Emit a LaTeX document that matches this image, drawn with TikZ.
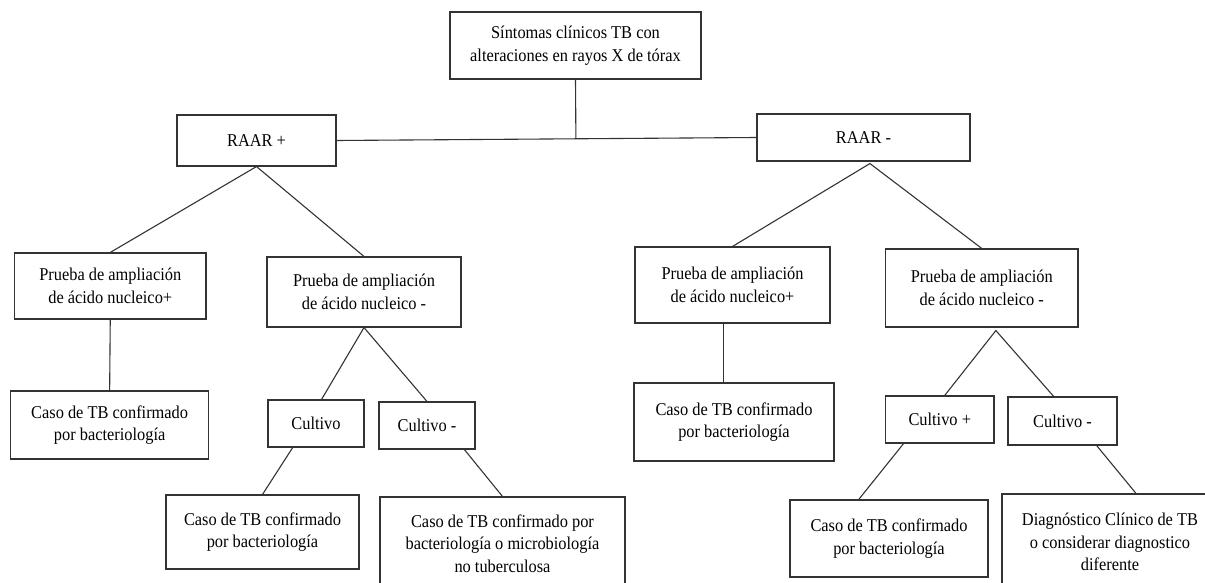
\documentclass[tikz,border=0pt]{standalone}
\usepackage{fontspec}
\setmainfont{Liberation Serif}[FakeStretch=0.91]
\usetikzlibrary{calc}
\tikzset{
  bx/.style 2 args={draw=black!80, line width=1.1pt, align=center, inner sep=0pt,
    minimum width=#1 pt, minimum height=#2 pt, text=black,
    font=\fontsize{18}{22.5}\selectfont},
  ln/.style={draw=black!80, line width=1.1pt}
}
\begin{document}
\begin{tikzpicture}[x=1pt,y=-1pt]
\useasboundingbox (0,0) rectangle (1205,583);
\clip (0,0) rectangle (1205,583);
% nodes
\node[bx={251}{67}] (top) at (575.5,45.5) {Síntomas clínicos TB con\\alteraciones en rayos X de tórax};
\node[bx={159}{51}] (raarp) at (256.5,140.5) {RAAR +};
\node[bx={213}{47}] (raarm) at (863.5,137.5) {RAAR -};
\node[bx={191.5}{66}] (paanL1) at (110.25,286) {Prueba de ampliación\\de ácido nucleico+};
\node[bx={194}{70}] (paanL2) at (364,292) {Prueba de ampliación\\de ácido nucleico -};
\node[bx={195}{76}] (paanR1) at (732.5,285) {Prueba de ampliación\\de ácido nucleico+};
\node[bx={192.5}{78}] (paanR2) at (981.75,288) {Prueba de ampliación\\de ácido nucleico -};
\node[bx={198}{68}] (casoL1) at (109.65,425) {Caso de TB confirmado\\por bacteriología};
\node[bx={96}{47}] (cult1) at (316,423.5) {Cultivo};
\node[bx={96}{47}] (cultm1) at (427,425.5) {Cultivo -};
\node[bx={193}{74}] (casoL2) at (262.5,532) {Caso de TB confirmado\\por bacteriología};
\node[bx={245}{93}] (casoL3) at (502.5,543.5) {Caso de TB confirmado por\\bacteriología o microbiología\\no tuberculosa};
\node[bx={200}{78}] (casoR1) at (734,422) {Caso de TB confirmado\\por bacteriología};
\node[bx={108.5}{47}] (cultp) at (939.75,419.5) {Cultivo +};
\node[bx={109}{48}] (cultmR) at (1062.5,421) {Cultivo -};
\node[bx={198}{77}] (casoR2) at (889,538.5) {Caso de TB confirmado\\por bacteriología};
\node[bx={216}{96}] (diag) at (1110,542) {Diagnóstico Clínico de TB\\o considerar diagnostico\\diferente};
% connectors
\coordinate (j) at ($(raarp.east)!0.570!(raarm.west)$);
\draw[ln] (raarp.east) -- (raarm.west);
\draw[ln] (top.south) -- (j);
\coordinate (aRm) at ($(raarm.south west)!0.53!(raarm.south east)+(0,2)$);
\draw[ln] (paanL1.north) -- (raarp.south) -- (paanL2.north);
\draw[ln] (paanR1.north) -- (aRm) -- (paanR2.north);
\draw[ln] (paanL1.south) -- (casoL1.north);
\draw[ln] ($(cult1.north west)!0.557!(cult1.north east)$) -- (paanL2.south) -- (cultm1.north);
\draw[ln] ($(cult1.south west)!0.26!(cult1.south east)$) -- (casoL2.north);
\draw[ln] ($(cultm1.south west)!0.885!(cultm1.south east)$) -- (casoL3.north);
\coordinate (pR1) at ($(paanR1.south west)!0.456!(paanR1.south east)$);
\draw[ln] (pR1) -- (pR1 |- casoR1.north);
\coordinate (aR2) at ($(paanR2.south west)!0.573!(paanR2.south east)+(0,3)$);
\draw[ln] ($(cultp.north west)!0.545!(cultp.north east)$) -- (aR2) -- ($(cultmR.north west)!0.42!(cultmR.north east)$);
\draw[ln] ($(cultp.south west)!0.17!(cultp.south east)$) -- ($(casoR2.north west)!0.348!(casoR2.north east)$);
\draw[ln] ($(cultmR.south west)!0.81!(cultmR.south east)$) -- ($(diag.north west)!0.62!(diag.north east)$);
\end{tikzpicture}
\end{document}
